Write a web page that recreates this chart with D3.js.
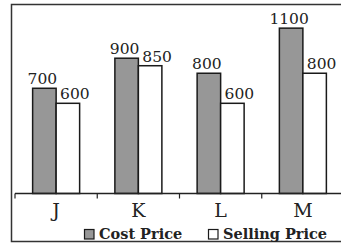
<!DOCTYPE html>
<html>
<head>
<meta charset="utf-8">
<script src="https://cdn.jsdelivr.net/npm/d3@7"></script>
<style>
  body { margin: 0; background: #fff; }
  svg { display: block; }
</style>
</head>
<body>
<div id="container"></div>
<script>
const width = 341;
const height = 244;

// data
const categories = ["J", "K", "L", "M"];
const series = ["Cost Price", "Selling Price"];
const costPrice = [700, 900, 800, 1100];
const sellingPrice = [600, 850, 600, 800];
const seriesFill = ["#979797", "#ffffff"];

const rows = categories.map((c, i) => ({cat: c, values: [costPrice[i], sellingPrice[i]]}));

const svg = d3.select("#container")
              .append("svg")
              .attr("width", width)
              .attr("height", height);

// frame (right edge runs off the picture)
svg.append("rect")
   .attr("x", 11.5)
   .attr("y", 4.5)
   .attr("width", 340)
   .attr("height", 237)
   .attr("fill", "none")
   .attr("stroke", "#333")
   .attr("stroke-width", 1.5);

const x0 = d3.scaleBand()
             .domain(categories)
             .range([15, 344])
             .padding(0);
const x1 = d3.scaleBand()
             .domain(series)
             .range([0, x0.bandwidth()])
             .paddingInner(0)
             .paddingOuter(0.75);
const y = d3.scaleLinear()
            .domain([0, 1250])
            .range([193.5, 5.6]);

const groups = svg.append("g")
                  .selectAll("g")
                  .data(rows)
                  .enter()
                  .append("g")
                  .attr("transform", d => "translate(" + x0(d.cat) + ",0)");

groups.selectAll("rect")
      .data(d => d.values.map((v, i) => ({key: series[i], value: v, i: i})))
      .enter()
      .append("rect")
      .attr("x", d => x1(d.key))
      .attr("y", d => y(d.value))
      .attr("width", x1.bandwidth())
      .attr("height", d => y(0) - y(d.value))
      .attr("fill", d => seriesFill[d.i])
      .attr("stroke", "#1a1a1a")
      .attr("stroke-width", 1.5);

groups.selectAll("text")
      .data(d => d.values.map((v, i) => ({key: series[i], value: v, i: i})))
      .enter()
      .append("text")
      .attr("x", d => x1(d.key) + x1.bandwidth() / 2 + (d.i === 0 ? -2 : 7))
      .attr("y", d => y(d.value) - 4)
      .attr("text-anchor", "middle")
      .attr("font-family", "DejaVu Serif")
      .attr("font-size", 15.5)
      .attr("fill", "#222")
      .text(d => d.value);

// x axis: line with ticks at band edges pointing down
const axis = svg.append("g");
axis.append("line")
    .attr("x1", x0.range()[0])
    .attr("x2", x0.range()[1])
    .attr("y1", y(0))
    .attr("y2", y(0))
    .attr("stroke", "#222")
    .attr("stroke-width", 1.5);
axis.selectAll(".tick")
    .data(categories)
    .enter()
    .append("line")
    .attr("class", "tick")
    .attr("x1", d => x0(d))
    .attr("x2", d => x0(d))
    .attr("y1", y(0))
    .attr("y2", y(0) + 5)
    .attr("stroke", "#222")
    .attr("stroke-width", 1.2);
axis.selectAll("text")
    .data(categories)
    .enter()
    .append("text")
    .attr("x", d => x0(d) + x0.bandwidth() / 2)
    .attr("y", 216.5)
    .attr("text-anchor", "middle")
    .attr("font-family", "DejaVu Serif")
    .attr("font-size", 19)
    .attr("fill", "#222")
    .text(d => d);

// legend
const legendX = [84, 208];
const legend = svg.append("g")
                  .selectAll("g")
                  .data(series)
                  .enter()
                  .append("g")
                  .attr("transform", (d, i) => "translate(" + legendX[i] + ",229)");
legend.append("rect")
      .attr("x", 0.5)
      .attr("y", 0.5)
      .attr("width", 9.5)
      .attr("height", 9.5)
      .attr("fill", (d, i) => seriesFill[i])
      .attr("stroke", "#1a1a1a")
      .attr("stroke-width", 1.2);
legend.append("text")
      .attr("x", 15)
      .attr("y", 10)
      .attr("font-family", "DejaVu Serif")
      .attr("font-weight", "bold")
      .attr("font-size", 14.5)
      .attr("fill", "#222")
      .text(d => d);
</script>
</body>
</html>
